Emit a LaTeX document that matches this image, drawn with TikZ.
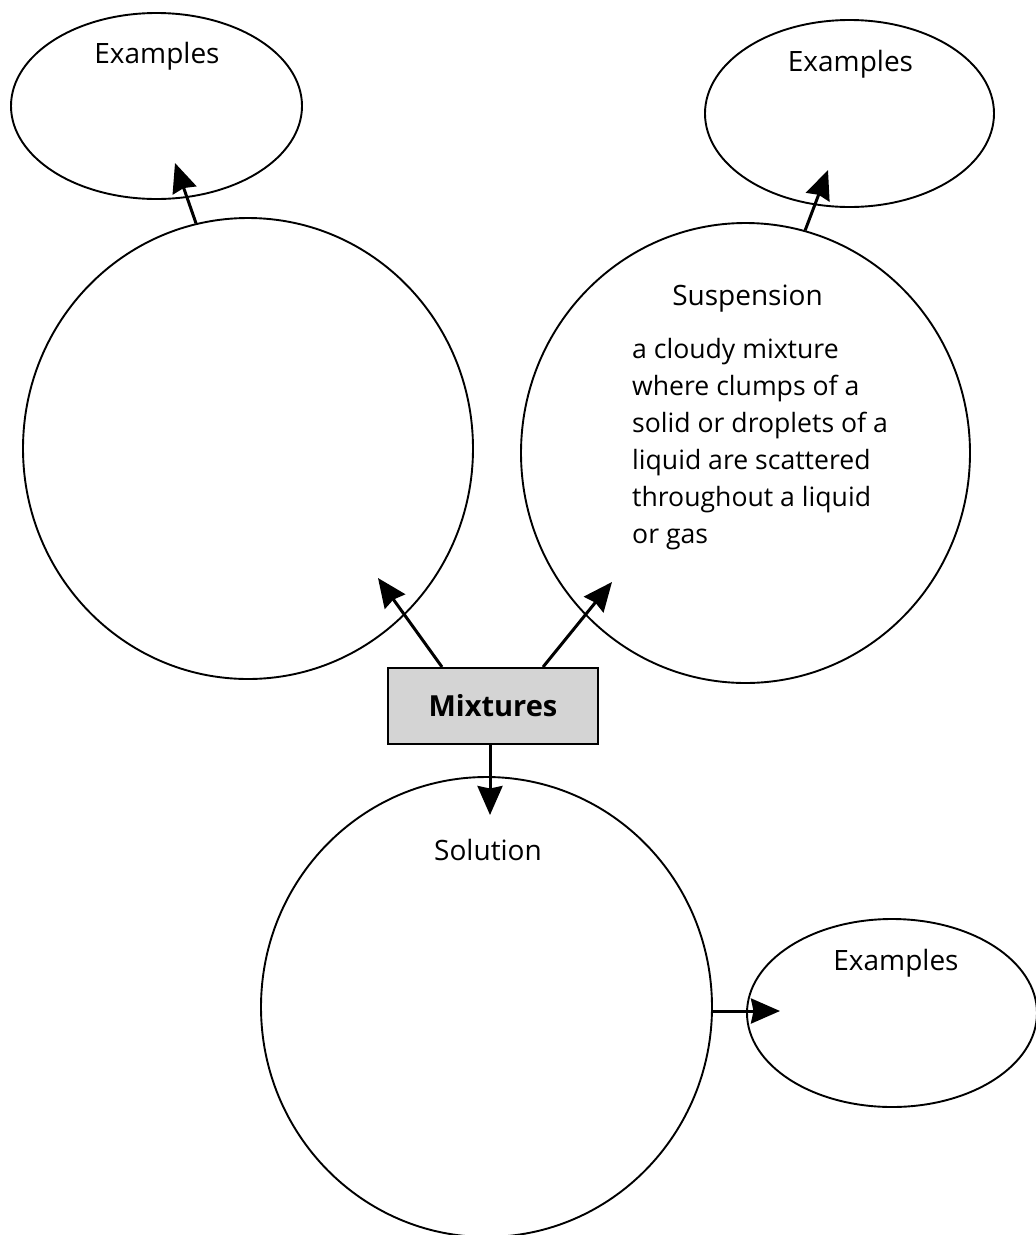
\documentclass[tikz,border=0pt]{standalone}
\usepackage{fontspec}
\setmainfont{Open Sans}
\usetikzlibrary{shapes.geometric,arrows.meta}
\begin{document}
\begin{tikzpicture}[x=1pt,y=-1pt,
  bubble/.style={draw,line width=1.9pt,shape=ellipse,inner sep=0pt},
  arr/.style={line width=3pt,-{Stealth[length=29pt,width=25pt,inset=2.5pt]}},
  head/.style={anchor=base,inner sep=0pt,font=\fontsize{28}{34}\selectfont},
  body/.style={anchor=base west,inner sep=0pt,font=\fontsize{26.6}{37}\selectfont},
  mixbox/.style={draw,line width=2pt,fill=black!17,minimum width=210pt,minimum height=76pt,inner sep=0pt,font=\bfseries\fontsize{29}{34}\selectfont}]
\useasboundingbox (0,0) rectangle (1036,1235);
% bubbles
\node[bubble,minimum width=291pt,minimum height=186pt] (exTL) at (156.5,106) {};
\node[bubble,minimum width=289pt,minimum height=187pt] (exTR) at (849.5,113.5) {};
\node[bubble,minimum width=290pt,minimum height=188pt] (exBR) at (892,1013) {};
\node[bubble,minimum width=450pt,minimum height=461pt] (left) at (248,448.5) {};
\node[bubble,minimum width=449pt,minimum height=460pt] (susp) at (745.5,453) {};
\node[bubble,minimum width=451pt,minimum height=460pt] (sol) at (486.5,1007) {};
\node[mixbox] (mix) at (493,706) {Mixtures};
% texts
\node[head] (tTL) at (157,63) {Examples};
\node[head] (tTR) at (850.5,71) {Examples};
\node[head] (tBR) at (896,970) {Examples};
\node[head] (tSusp) at (747.5,305) {Suspension};
\node[head] (tSol) at (488,860) {Solution};
\foreach \t [count=\i] in {a cloudy mixture,where clumps of a,solid or droplets of a,liquid are scattered,throughout a liquid,or gas}
  \node[body] (p\i) at (632,322+36.9*\i) {\t};
% arrow tips
\coordinate (tipL) at (378,578);
\coordinate (tipS) at (612,582);
\coordinate (tipD) at (490,815);
\coordinate (tipTL) at (175,163);
\coordinate (tipTR) at (828,170);
\coordinate (tipBR) at (780,1011);
% connectors
\draw[arr] ([xshift=-51pt]mix.north) -- (tipL);
\draw[arr] ([xshift=50pt]mix.north) -- (tipS);
\draw[arr] ([xshift=-3pt]mix.south) -- (tipD);
\draw[arr] (left.103) -- (tipTL);
\draw[arr] (susp.75) -- (tipTR);
\draw[arr] (tipBR -| sol.east) -- (tipBR);
\end{tikzpicture}
\end{document}
